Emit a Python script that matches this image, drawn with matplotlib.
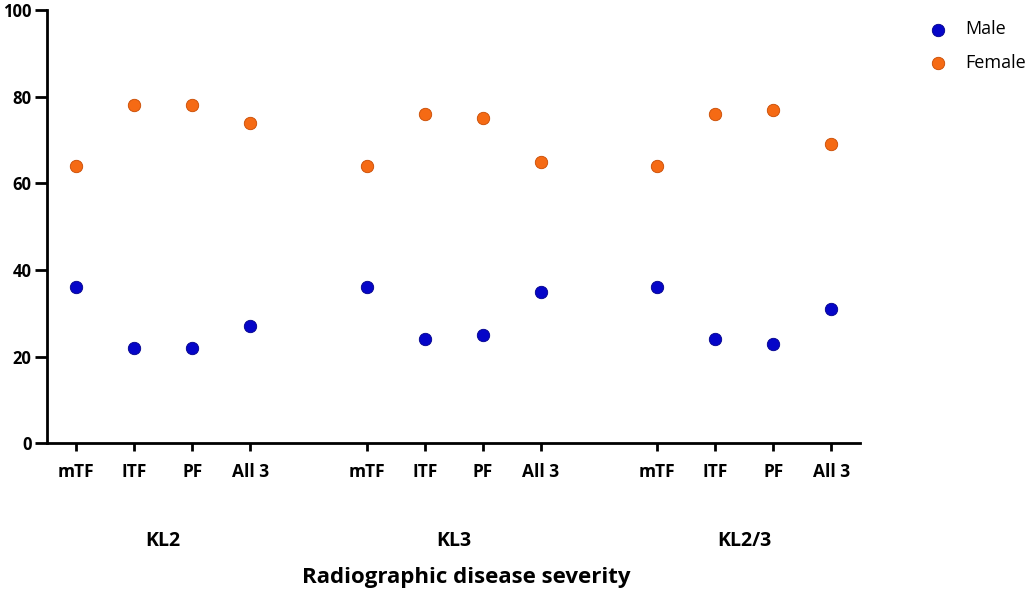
import numpy as np
import matplotlib
matplotlib.use('Agg')
import matplotlib.pyplot as plt

# --- data ---
groups = ['KL2', 'KL3', 'KL2/3']
compartments = ['mTF', 'lTF', 'PF', 'All 3']
male = [36, 22, 22, 27,
        36, 24, 25, 35,
        36, 24, 23, 31]
female = [64, 78, 78, 74,
          64, 76, 75, 65,
          64, 76, 77, 69]

MALE_COLOR = '#0505C8'
FEMALE_COLOR = '#F56A14'

# positions: 4 per group, one empty slot between groups
xpos = []
for g in range(len(groups)):
    xpos += [g * 5 + i + 1 for i in range(len(compartments))]
xpos = np.array(xpos)
tick_labels = ['ITF' if c == 'lTF' else c for c in compartments] * len(groups)

fig = plt.figure(figsize=(10.35, 5.94), dpi=100)
ax = fig.add_axes([0.0454, 0.254, 0.786, 0.729])

ax.scatter(xpos, male, s=80, color=MALE_COLOR, edgecolors='#00008B',
           linewidths=0.6, label='Male', zorder=3)
ax.scatter(xpos, female, s=80, color=FEMALE_COLOR, edgecolors='#C84A00',
           linewidths=0.6, label='Female', zorder=3)

ax.set_xlim(0.5, 14.5)
ax.set_ylim(0, 100)
ax.set_yticks([0, 20, 40, 60, 80, 100])
ax.set_xticks(xpos)
ax.set_xticklabels(tick_labels)

for side in ['top', 'right']:
    ax.spines[side].set_visible(False)
for side in ['left', 'bottom']:
    ax.spines[side].set_linewidth(2.0)
    ax.spines[side].set_color('black')

ax.tick_params(axis='y', length=9, width=2.0, labelsize=12, pad=2)
ax.tick_params(axis='x', length=6, width=2.0, labelsize=12.5, pad=8)
for lbl in ax.get_xticklabels() + ax.get_yticklabels():
    lbl.set_fontweight('bold')
    lbl.set_fontfamily('Open Sans')

# group labels under the tick labels
for g, name in enumerate(groups):
    center = g * 5 + 2.5
    ax.text(center, -22.5, name, ha='center', va='center', fontsize=14,
            fontweight='bold', family='Open Sans', clip_on=False)

fig.text(0.45, 0.027, 'Radiographic disease severity', ha='center',
         va='center', fontsize=16, fontweight='bold', family='Open Sans')

leg = fig.legend(loc='upper left', bbox_to_anchor=(0.873, 0.993),
                 frameon=False, handletextpad=0.5, labelspacing=0.85,
                 prop={'family': 'Open Sans', 'size': 13})

fig.savefig('out.png', dpi=100)
